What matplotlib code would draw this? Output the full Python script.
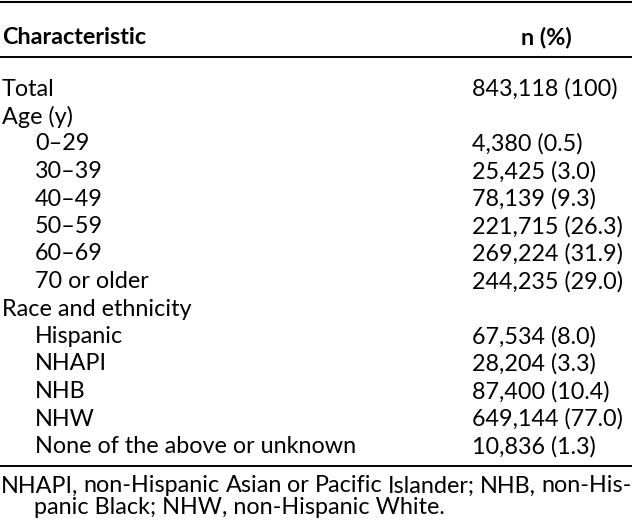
import matplotlib
matplotlib.use("Agg")
import matplotlib.pyplot as plt

# table contents
row_labels = ["Total", "Age (y)", "0–29", "30–39", "40–49", "50–59", "60–69",
              "70 or older", "Race and ethnicity", "Hispanic", "NHAPI", "NHB",
              "NHW", "None of the above or unknown"]
row_indent = [0, 0, 1, 1, 1, 1, 1, 1, 0, 1, 1, 1, 1, 1]
n_values = [843118, None, 4380, 25425, 78139, 221715, 269224, 244235,
            None, 67534, 28204, 87400, 649144, 10836]
pct_values = [100, None, 0.5, 3.0, 9.3, 26.3, 31.9, 29.0,
              None, 8.0, 3.3, 10.4, 77.0, 1.3]
col_headers = ["Characteristic", "n (%)"]
footnote = ["NHAPI, non-Hispanic Asian or Pacific Islander; NHB, non-His-",
            "panic Black; NHW, non-Hispanic White."]

W, H = 632, 526
FONT = "Lato"
FS = 16.8

fig = plt.figure(figsize=(W / 100, H / 100), dpi=100)
ax = fig.add_axes([0, 0, 1, 1])
ax.set_xlim(0, W)
ax.set_ylim(H, 0)
ax.axis("off")

#rules
ax.axhline(1.5, color="black", lw=1.5)
ax.axhline(57, color="black", lw=1.4)
ax.axhline(466, color="black", lw=1.4)

x_num = 472
ax.text(2, 38, col_headers[0], fontsize=FS, fontweight="bold", family=FONT, va="center")
ax.text(546, 38, col_headers[1], fontsize=FS, fontweight="bold", family=FONT,
        va="center", ha="center")

y0, pitch = 89, 27.5
for i, lab in enumerate(row_labels):
    y = y0 + i * pitch
    ax.text(2 + 33 * row_indent[i], y, lab, fontsize=FS, family=FONT, va="center")
    if n_values[i] is not None:
        p = pct_values[i]
        ptxt = "100" if p == 100 else f"{p:.1f}"
        ax.text(x_num, y, f"{n_values[i]:,} ({ptxt})", fontsize=FS, family=FONT, va="center")

# footnote, first line justified to the full width
fig.canvas.draw()
renderer = fig.canvas.get_renderer()
words = footnote[0].split(" ")
arts = [ax.text(0, 486, w, fontsize=FS, family=FONT, va="center") for w in words]
widths = [a.get_window_extent(renderer).width for a in arts]
gap = (W - 1 - sum(widths)) / (len(words) - 1)
x = 1
for a, w in zip(arts, widths):
    a.set_x(x)
    x += w + gap
ax.text(34, 508, footnote[1], fontsize=FS, family=FONT, va="center")

fig.savefig("out.png", dpi=100)
